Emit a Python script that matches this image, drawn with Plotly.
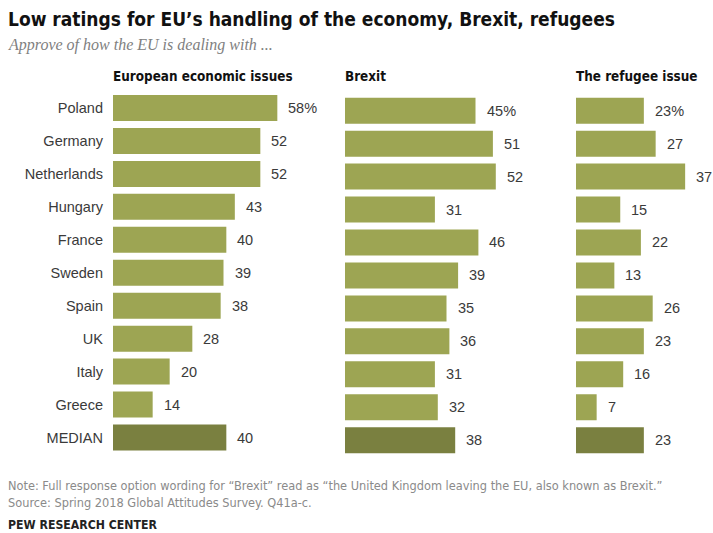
import plotly.graph_objects as go

countries = ["Poland", "Germany", "Netherlands", "Hungary", "France", "Sweden",
             "Spain", "UK", "Italy", "Greece", "MEDIAN"]
economy = [58, 52, 52, 43, 40, 39, 38, 28, 20, 14, 40]
brexit = [45, 51, 52, 31, 46, 39, 35, 36, 31, 32, 38]
refugee = [23, 27, 37, 15, 22, 13, 26, 23, 16, 7, 23]
headers = ["European economic issues", "Brexit", "The refugee issue"]

title = "Low ratings for EU\u2019s handling of the economy, Brexit, refugees"
subtitle = "Approve of how the EU is dealing with ..."
note1 = "Note: Full response option wording for \u201cBrexit\u201d read as \u201cthe United Kingdom leaving the EU, also known as Brexit.\u201d"
note2 = "Source: Spring 2018 Global Attitudes Survey. Q41a-c."
credit = "PEW RESEARCH CENTER"

W, H = 713, 533
LIGHT = "#9da553"
DARK = "#7a8040"
COND = "DejaVu Sans Condensed, Liberation Sans Narrow, sans-serif"
BODY = "Liberation Sans, Arial, sans-serif"

# panel geometry in pixels: (x start, px width, axis max, centre of first row)
panels = [
    (113, 170, 60, 108.0),
    (345, 174, 60, 110.7),
    (576, 118, 40, 110.7),
]
pitch = 32.95
series = [economy, brexit, refugee]

fig = go.Figure()
n = len(countries)
for i, (vals, (x0, wpx, xmax, c0)) in enumerate(zip(series, panels)):
    k = "" if i == 0 else str(i + 1)
    colors = [DARK if c == "MEDIAN" else LIGHT for c in countries]
    fig.add_trace(go.Bar(
        x=vals, y=countries, orientation="h",
        marker=dict(color=colors, line=dict(width=0)),
        width=0.79, xaxis="x" + k, yaxis="y" + k,
        hoverinfo="skip", showlegend=False,
    ))
    top = c0 - pitch / 2
    bot = c0 + (n - 1) * pitch + pitch / 2
    fig.layout["xaxis" + k] = dict(
        domain=[x0 / W, (x0 + wpx) / W], range=[0, xmax],
        visible=False, fixedrange=True,
    )
    fig.layout["yaxis" + k] = dict(
        domain=[1 - bot / H, 1 - top / H], range=[n - 0.5, -0.5],
        type="category", anchor="x" + k,
        showticklabels=(i == 0), showgrid=False, zeroline=False,
        showline=False, ticks="", ticklen=0,
        tickfont=dict(family=BODY, size=14.5, color="#3a3a3a"),
        fixedrange=True,
    )
    for j, (c, v) in enumerate(zip(countries, vals)):
        txt = f"{v}%" if j == 0 else str(v)
        fig.add_annotation(
            x=v, y=c, xref="x" + k, yref="y" + k, text=txt,
            xanchor="left", yanchor="middle", xshift=9, showarrow=False,
            font=dict(family=BODY, size=14.5, color="#3a3a3a"),
        )
    fig.add_annotation(
        x=(x0 - 2) / W, y=1 - 77 / H, xref="paper", yref="paper", text=f"<b>{headers[i]}</b>",
        xanchor="left", yanchor="middle", showarrow=False,
        font=dict(family=COND, size=13.4, color="#111111"),
    )

def ptext(text, x, y, size, family, color, anchor="middle"):
    fig.add_annotation(x=x / W, y=1 - y / H, xref="paper", yref="paper", text=text,
                       xanchor="left", yanchor=anchor, showarrow=False,
                       font=dict(family=family, size=size, color=color))

ptext(f"<b>{title}</b>", 6, 19, 19, COND, "#111111")
ptext(f"<i>{subtitle}</i>", 6, 45, 16, "Liberation Serif, DejaVu Serif, serif", "#808080")
ptext(note1, 6, 485, 12.65, COND, "#8a8a8a")
ptext(note2, 6, 502, 12.65, COND, "#8a8a8a")
ptext(f"<b>{credit}</b>", 6, 525, 12.2, COND, "#222222")

fig.update_layout(
    width=W, height=H, margin=dict(l=0, r=0, t=0, b=0),
    paper_bgcolor="white", plot_bgcolor="white",
    bargap=0.2,
)
fig.update_yaxes(ticklabelstandoff=9)
fig.write_html("out.html", config={"displayModeBar": False},
               post_script="document.body.style.margin='0';")
